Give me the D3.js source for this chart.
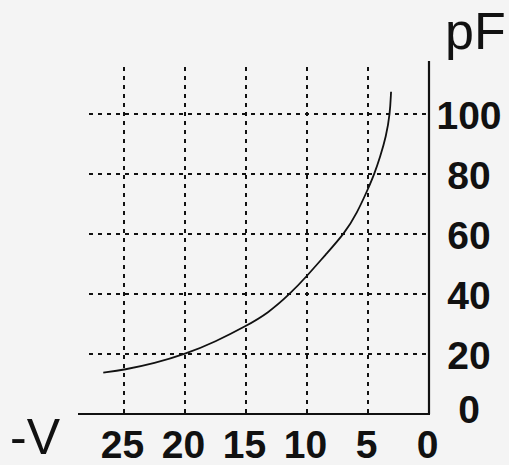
<!DOCTYPE html>
<html><head><meta charset="utf-8">
<script src="https://cdn.jsdelivr.net/npm/d3@7"></script>
<style>
html,body{margin:0;padding:0;background:#f4f4f4;}
svg{display:block;}
text{font-family:"Liberation Sans",Arial,sans-serif;fill:#111;}
</style></head>
<body><svg id="c" width="509" height="465"></svg>
<script>
// Data
const voltage = [26.7, 25, 22.5, 20, 17.5, 15, 13.2, 11.4, 10, 8.5, 6.9, 5.9, 5, 4.48, 4.0, 3.52, 3.2, 3.11];
const capacitance = [13.8, 14.7, 16.9, 19.9, 24.1, 29.3, 33.6, 40, 46, 53, 60.3, 67, 75, 80, 85.8, 92.4, 100, 107.4];
const xTicks = [25, 20, 15, 10, 5, 0];
const yTicks = [0, 20, 40, 60, 80, 100];
const xGrid = [25, 20, 15, 10, 5];
const yGrid = [20, 40, 60, 80, 100];
const xUnit = "-V";
const yUnit = "pF";

const svg = d3.select("#c");
const x = d3.scaleLinear().domain([0, 25]).range([429, 124]);
const y = d3.scaleLinear().domain([0, 100]).range([414, 114]);

const ink = "#111";
// grid
svg.append("g").selectAll("line").data(xGrid).join("line")
  .attr("x1", d => x(d)).attr("x2", d => x(d))
  .attr("y1", 67).attr("y2", y(0))
  .attr("stroke", ink).attr("stroke-width", 2).attr("stroke-dasharray", "4,5");
svg.append("g").selectAll("line").data(yGrid).join("line")
  .attr("x1", 89).attr("x2", x(0))
  .attr("y1", d => y(d)).attr("y2", d => y(d))
  .attr("stroke", ink).attr("stroke-width", 2).attr("stroke-dasharray", "4,5");

// axes lines
svg.append("line").attr("x1", 78).attr("x2", x(0)+1).attr("y1", y(0)).attr("y2", y(0))
  .attr("stroke", ink).attr("stroke-width", 2.2);
svg.append("line").attr("x1", x(0)).attr("x2", x(0)).attr("y1", 61).attr("y2", y(0))
  .attr("stroke", ink).attr("stroke-width", 2.2);

// tick labels via axes
const xAxis = d3.axisBottom(x).tickValues(xTicks).tickSize(0).tickPadding(0).tickFormat(d3.format("d"));
const gx = svg.append("g").attr("transform", "translate(-2,458)").call(xAxis);
gx.select(".domain").remove();
gx.selectAll("text").attr("dy", 0).attr("y", 0)
  .style("font-family", '"Liberation Sans",Arial,sans-serif')
  .style("font-size", "39px").style("font-weight", "bold").attr("fill", ink);

const yAxis = d3.axisRight(y).tickValues(yTicks).tickSize(0).tickPadding(0).tickFormat(d3.format("d"));
const gy = svg.append("g").attr("transform", "translate(469,0)").call(yAxis);
gy.select(".domain").remove();
gy.selectAll("text").attr("x", 0).attr("text-anchor", "middle").attr("dy", "0.36em")
  .attr("y", d => d === 0 ? -6 : 0)
  .style("font-family", '"Liberation Sans",Arial,sans-serif')
  .style("font-size", "39px").style("font-weight", "bold").attr("fill", ink);

// unit labels
svg.append("text").attr("x", 445).attr("y", 49).attr("font-size", 52).text(yUnit);
svg.append("text").attr("x", 10).attr("y", 454).attr("font-size", 50).text(xUnit);

// curve
const pts = voltage.map((v, i) => [v, capacitance[i]]);
const line = d3.line().x(d => x(d[0])).y(d => y(d[1])).curve(d3.curveBasis);
svg.append("path").datum(pts).attr("d", line)
  .attr("fill", "none").attr("stroke", ink).attr("stroke-width", 1.8);
</script></body></html>
